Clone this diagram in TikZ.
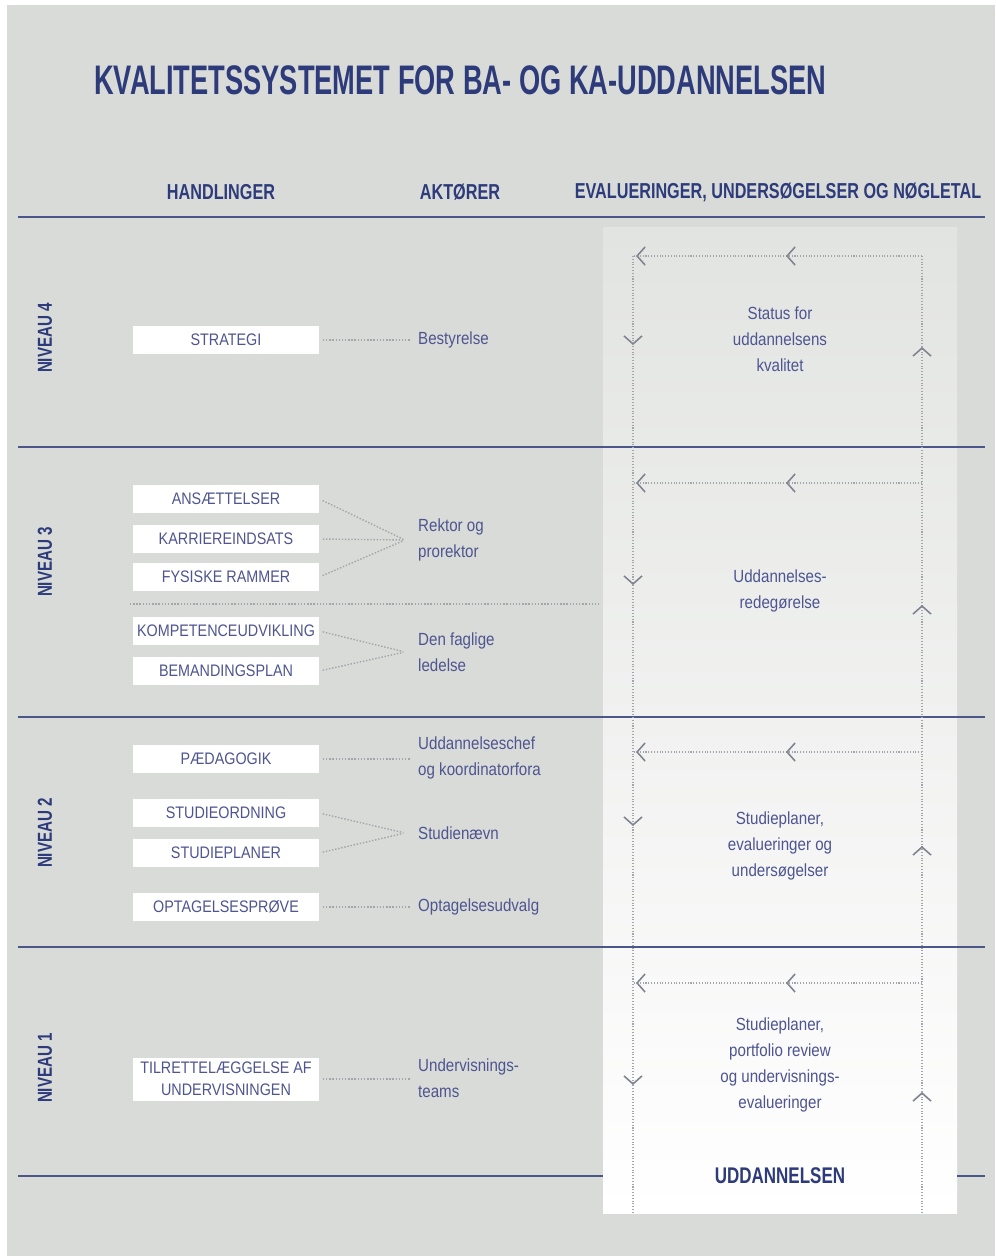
\documentclass[tikz,border=0pt]{standalone}
\usepackage{fontspec}
\setmainfont{Liberation Sans}
\newfontfamily\condfont[FakeStretch=0.75]{Liberation Sans}
\newfontfamily\titlefont[FakeStretch=0.66]{Liberation Sans}
\newfontfamily\narrowfont[FakeStretch=0.86]{Liberation Sans}
\usetikzlibrary{arrows.meta,positioning}
\definecolor{bggray}{HTML}{D9DBD8}
\definecolor{coltop}{HTML}{E2E4E1}
\definecolor{navy}{HTML}{2D3B7B}
\definecolor{rule}{HTML}{4D5688}
\definecolor{slate}{HTML}{4E5590}
\definecolor{dotgray}{HTML}{A2A6AC}
\definecolor{tipgray}{HTML}{80848F}

\begin{document}
\begin{tikzpicture}[x=0.02cm,y=-0.02cm,
  handling/.style={fill=white,minimum width=3.72cm,minimum height=0.57cm,inner sep=1pt,align=center,text=slate,font=\narrowfont\fontsize{9.5}{12.5}\selectfont},
  aktor/.style={anchor=west,align=left,text=slate,font=\narrowfont\fontsize{10}{14.7}\selectfont},
  evaltext/.style={align=center,text=slate,font=\narrowfont\fontsize{10}{14.7}\selectfont},
  niveau/.style={rotate=90,text=navy,font=\condfont\bfseries\fontsize{11.5}{13}\selectfont},
  head/.style={text=navy,font=\condfont\bfseries\fontsize{12.3}{15}\selectfont},
  link/.style={dotgray,densely dotted,line width=0.8pt,shorten <=2pt,shorten >=1pt},
  cycle/.style={dotgray,densely dotted,line width=0.6pt},
  chev/.style={tipgray,line width=0.9pt,-{Straight Barb[length=1.6mm,width=3.6mm]}},
  level/.style={rule,line width=1.1pt}]
\useasboundingbox (0,0) rectangle (995,1256);
\fill[white] (0,0) rectangle (995,1256);
\fill[bggray] (7,5) rectangle (995,1256);
\shade[top color=coltop,bottom color=white] (603,228) rectangle (957,1213);

\node[anchor=west,text=navy,font=\titlefont\bfseries\fontsize{23.5}{26}\selectfont] (title) at (88,80) {KVALITETSSYSTEMET FOR BA- OG KA-UDDANNELSEN};
\node[head] (hhandl) at (221,192) {HANDLINGER};
\node[head] (hakt) at (460,192) {AKTØRER};
\node[head] (heval) at (778,192) {EVALUERINGER, UNDERSØGELSER OG NØGLETAL};

\foreach \y in {217,447,717,947}{\draw[level] (18,\y) -- (985,\y);}
\draw[level] (18,1176) -- (603,1176);
\draw[level] (957,1176) -- (985,1176);

\node[niveau] (n4) at (45,338) {NIVEAU 4};
\node[niveau] (n3) at (45,562) {NIVEAU 3};
\node[niveau] (n2) at (45,833) {NIVEAU 2};
\node[niveau] (n1) at (45,1068) {NIVEAU 1};

\node[handling] (strategi) at (226,340) {STRATEGI};
\node[handling] (ansaet) at (226,499) {ANSÆTTELSER};
\node[handling] (karriere) at (226,539) {KARRIEREINDSATS};
\node[handling] (fysiske) at (226,577) {FYSISKE RAMMER};
\node[handling] (kompet) at (226,631) {KOMPETENCEUDVIKLING};
\node[handling] (beman) at (226,671) {BEMANDINGSPLAN};
\node[handling] (paed) at (226,759) {PÆDAGOGIK};
\node[handling] (studord) at (226,813) {STUDIEORDNING};
\node[handling] (studplan) at (226,853) {STUDIEPLANER};
\node[handling] (optag) at (226,907) {OPTAGELSESPRØVE};
\node[handling,minimum height=0.86cm] (tilret) at (226,1079) {TILRETTELÆGGELSE AF\\UNDERVISNINGEN};

\coordinate (rekpt) at (405,540);
\coordinate (fagpt) at (405,652);
\coordinate (stupt) at (405,833);
\node[aktor] (bestyr) at (412,340) {Bestyrelse};
\node[aktor] (rektor) at (412,540) {Rektor og\\prorektor};
\node[aktor] (faglig) at (412,652) {Den faglige\\ledelse};
\node[aktor] (uddchef) at (412,758) {Uddannelseschef\\og koordinatorfora};
\node[aktor] (stunaevn) at (412,833) {Studienævn};
\node[aktor] (optudv) at (412,907) {Optagelsesudvalg};
\node[aktor] (teams) at (412,1078) {Undervisnings-\\teams};

\draw[link] (strategi.east) -- (strategi.east -| bestyr.west);
\foreach \b in {ansaet,karriere,fysiske}{\draw[link] (\b.east) -- (rekpt);}
\foreach \b in {kompet,beman}{\draw[link] (\b.east) -- (fagpt);}
\draw[link] (paed.east) -- (paed.east -| uddchef.west);
\foreach \b in {studord,studplan}{\draw[link] (\b.east) -- (stupt);}
\draw[link] (optag.east) -- (optag.east -| optudv.west);
\draw[link] (tilret.east) -- (tilret.east -| teams.west);
\draw[dotgray,densely dotted,line width=0.8pt] (130,604) -- (600,604);

\coordinate (ltop) at (633,256);
\coordinate (rtop) at (922,256);
\coordinate (lbot) at (633,1213);
\coordinate (rbot) at (922,1213);
\draw[cycle] (ltop) -- (lbot);
\draw[cycle] (rtop) -- (rbot);
\foreach \yt/\yd/\yu in {256/345/347,483/585/605,752/826/846,983/1085/1092}{
  \draw[cycle] (922,\yt) -- (633,\yt);
  \draw[chev] (637,\yt) -- (636,\yt);
  \draw[chev] (787,\yt) -- (786,\yt);
  \draw[chev] (633,\yd-1) -- (633,\yd);
  \draw[chev] (922,\yu+1) -- (922,\yu);
}

\node[evaltext] (ev4) at (780,339) {Status for\\uddannelsens\\kvalitet};
\node[evaltext] (ev3) at (780,591) {Uddannelses-\\redegørelse};
\node[evaltext] (ev2) at (780,846) {Studieplaner,\\evalueringer og\\undersøgelser};
\node[evaltext] (ev1) at (780,1065) {Studieplaner,\\portfolio review\\og undervisnings-\\evalueringer};
\node[text=navy,font=\condfont\bfseries\fontsize{12.9}{15}\selectfont] (udd) at (780,1176) {UDDANNELSEN};
\end{tikzpicture}
\end{document}
